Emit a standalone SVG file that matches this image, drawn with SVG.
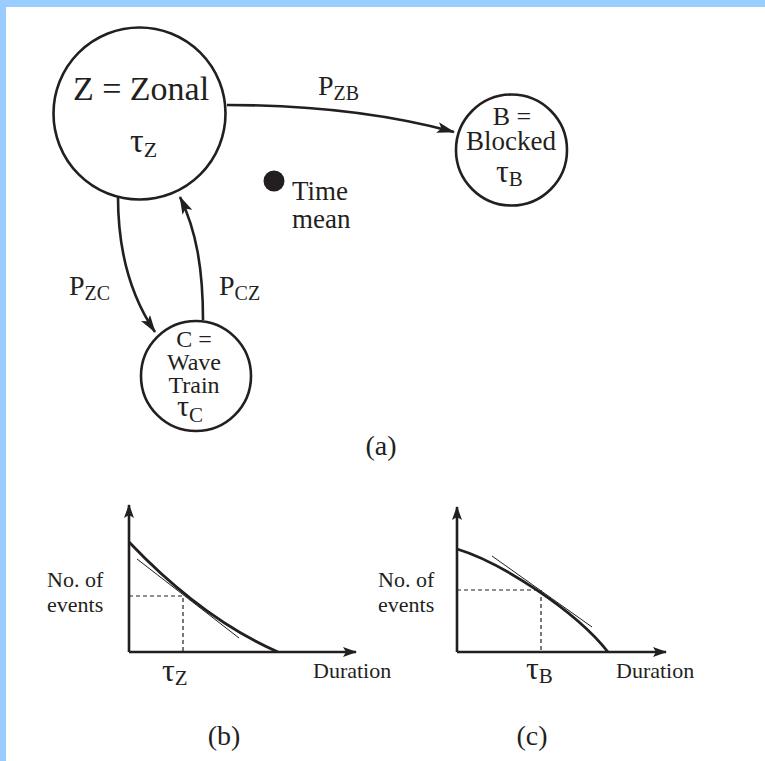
<svg xmlns="http://www.w3.org/2000/svg" width="765" height="761" viewBox="0 0 765 761">
<defs>
<style>
.t{font-family:"Liberation Serif","Times New Roman",serif;fill:#231f20}
.node{fill:#fff;stroke:#231f20;stroke-width:2.6}
.conn{fill:none;stroke:#231f20;stroke-width:2.6}
.axis{fill:none;stroke:#231f20;stroke-width:2.6}
.curve{fill:none;stroke:#231f20;stroke-width:2.8}
.tan{fill:none;stroke:#231f20;stroke-width:1}
.dash{fill:none;stroke:#231f20;stroke-width:1.2;stroke-dasharray:4 3}
</style>
<marker id="ah" viewBox="0 0 18 11" refX="17" refY="5.5" markerWidth="18" markerHeight="11" markerUnits="userSpaceOnUse" orient="auto">
<path d="M0,0 L18,5.5 L0,11 L4,5.5 Z" fill="#231f20"/>
</marker>
<marker id="ax" viewBox="0 0 14 10" refX="13" refY="5" markerWidth="14" markerHeight="10" markerUnits="userSpaceOnUse" orient="auto">
<path d="M0,0 L14,5 L0,10 L3,5 Z" fill="#231f20"/>
</marker>
</defs>
<rect x="0" y="0" width="765" height="761" fill="#fff"/>
<rect x="0" y="0" width="765" height="7" fill="#99ccff"/>
<rect x="0" y="0" width="6" height="761" fill="#99ccff"/>

<g id="connectors">
<path class="conn" d="M227,105 C300,105 380,112 454,132" marker-end="url(#ah)"/>
<path class="conn" d="M118,197 C118,255 132,298 155,332" marker-end="url(#ah)"/>
<path class="conn" d="M203,320 C203,268 196,230 180,197" marker-end="url(#ah)"/>
<text class="t" x="318" y="95" font-size="28">P<tspan font-size="20" dy="5">ZB</tspan></text>
<text class="t" x="69" y="295" font-size="28">P<tspan font-size="20" dy="5">ZC</tspan></text>
<text class="t" x="219" y="295" font-size="28">P<tspan font-size="20" dy="5">CZ</tspan></text>
</g>

<g id="node-Z">
<circle class="node" cx="139.5" cy="113.5" r="86"/>
<text class="t" x="141" y="100" font-size="34" text-anchor="middle">Z = Zonal</text>
<text class="t" x="130" y="152" font-size="34">τ<tspan font-size="22" dy="5">Z</tspan></text>
</g>

<g id="node-B">
<circle class="node" cx="511.5" cy="150" r="55.5"/>
<text class="t" x="512" y="125" font-size="26" text-anchor="middle">B =</text>
<text class="t" x="511" y="150" font-size="27" text-anchor="middle">Blocked</text>
<text class="t" x="496" y="182" font-size="32">τ<tspan font-size="21" dy="4">B</tspan></text>
</g>

<g id="node-C">
<circle class="node" cx="196" cy="376" r="55"/>
<text class="t" x="194" y="347" font-size="24" text-anchor="middle">C =</text>
<text class="t" x="194" y="370" font-size="24" text-anchor="middle">Wave</text>
<text class="t" x="194" y="393" font-size="24" text-anchor="middle">Train</text>
<text class="t" x="177" y="416" font-size="30">τ<tspan font-size="21" dy="6">C</tspan></text>
</g>

<g id="time-mean">
<circle cx="274" cy="181" r="10.5" fill="#231f20"/>
<text class="t" x="292" y="200" font-size="27">Time</text>
<text class="t" x="292" y="228" font-size="27">mean</text>
</g>

<text class="t" x="381" y="455" font-size="28" text-anchor="middle">(a)</text>

<g id="graph-b">
<path class="axis" d="M129,652 L129,505" marker-end="url(#ax)"/>
<path class="axis" d="M129,652 L356,652" marker-end="url(#ax)"/>
<path class="curve" d="M129,542 C148,562 205,620 278,652"/>
<path class="tan" d="M137,559 L239,638"/>
<path class="dash" d="M129,596 L183,596 L183,652"/>
<text class="t" x="47" y="587" font-size="22">No. of</text>
<text class="t" x="47" y="612" font-size="22">events</text>
<text class="t" x="162" y="681" font-size="32">τ<tspan font-size="21" dy="4">Z</tspan></text>
<text class="t" x="313" y="678" font-size="22">Duration</text>
<text class="t" x="224" y="745" font-size="28" text-anchor="middle">(b)</text>
</g>

<g id="graph-c">
<path class="axis" d="M457,652 L457,507" marker-end="url(#ax)"/>
<path class="axis" d="M457,652 L666,652" marker-end="url(#ax)"/>
<path class="curve" d="M457,549 C500,562 575,610 608,652"/>
<path class="tan" d="M492,556 L592,627"/>
<path class="dash" d="M457,590 L541,590 L541,652"/>
<text class="t" x="378" y="587" font-size="22">No. of</text>
<text class="t" x="378" y="612" font-size="22">events</text>
<text class="t" x="526" y="679" font-size="32">τ<tspan font-size="21" dy="4">B</tspan></text>
<text class="t" x="616" y="678" font-size="22">Duration</text>
<text class="t" x="532" y="745" font-size="28" text-anchor="middle">(c)</text>
</g>
</svg>
